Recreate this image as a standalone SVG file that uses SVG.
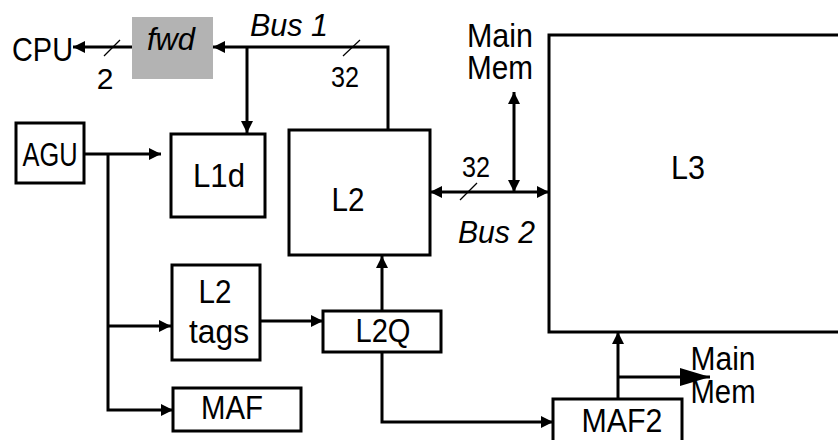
<svg xmlns="http://www.w3.org/2000/svg" width="838" height="440" viewBox="0 0 838 440">
<defs>
<style>
text{font-family:"Liberation Sans",Arial,sans-serif;fill:#000}
.lbl{font-size:33px;text-anchor:middle}
.it{font-style:italic;font-size:32px}
.num{font-size:30px;text-anchor:middle}
.box{fill:#fff;stroke:#000;stroke-width:3}
.ln{fill:none;stroke:#000;stroke-width:3}
.sl{stroke:#000;stroke-width:1.2}
</style>
<marker id="a" viewBox="0 0 12 12" refX="12" refY="6" markerWidth="12" markerHeight="12" markerUnits="userSpaceOnUse" orient="auto-start-reverse"><path d="M0,0 L12,6 L0,12 z" fill="#000"/></marker>
<marker id="big" viewBox="0 0 30 18" refX="30" refY="9" markerWidth="30" markerHeight="18" markerUnits="userSpaceOnUse" orient="auto"><path d="M0,0 L30,9 L0,18 z" fill="#000"/></marker>
</defs>
<rect width="838" height="440" fill="#fff"/>
<g id="connectors">
<line class="ln" x1="132" y1="47" x2="73" y2="47" marker-end="url(#a)"/>
<line class="sl" x1="104" y1="56" x2="120" y2="40"/>
<path class="ln" d="M388,130 L388,47 L213,47" marker-end="url(#a)"/>
<path class="ln" d="M247,47 L247,133" marker-end="url(#a)"/>
<line class="sl" x1="343" y1="56" x2="360" y2="40"/>
<path class="ln" d="M84,154 L161,154" marker-end="url(#a)"/>
<path class="ln" d="M108,154 L108,410 L173,410" marker-end="url(#a)"/>
<path class="ln" d="M108,326 L171,326" marker-end="url(#a)"/>
<path class="ln" d="M260,321 L323,321" marker-end="url(#a)"/>
<path class="ln" d="M382,311 L382,256" marker-end="url(#a)"/>
<path class="ln" d="M382,352 L382,422 L553,422" marker-end="url(#a)"/>
<path class="ln" d="M430,192 L549,192" marker-start="url(#a)" marker-end="url(#a)"/>
<path class="ln" d="M514,92 L514,192" marker-start="url(#a)" marker-end="url(#a)"/>
<line class="sl" x1="460" y1="200" x2="477" y2="183"/>
<path class="ln" d="M618,399 L618,332" marker-end="url(#a)"/>
<path class="ln" d="M618,377 L710,377" marker-end="url(#big)"/>
</g>
<g id="fwd"><rect x="132" y="17" width="81" height="62" fill="#b3b3b3"/><text class="it" x="171" y="50" text-anchor="middle" font-size="28" textLength="48" lengthAdjust="spacingAndGlyphs">fwd</text></g>
<g id="cpu"><text class="lbl" x="42.5" y="61" font-size="35" textLength="61" lengthAdjust="spacingAndGlyphs">CPU</text></g>
<g id="bus1"><text class="it" x="250" y="36" textLength="78" lengthAdjust="spacingAndGlyphs">Bus 1</text><text class="num" x="105" y="89">2</text><text class="num" x="345" y="87" textLength="28" lengthAdjust="spacingAndGlyphs">32</text></g>
<g id="agu"><rect class="box" x="16" y="123" width="68" height="60"/><text class="lbl" x="50" y="166" font-size="32" textLength="55" lengthAdjust="spacingAndGlyphs">AGU</text></g>
<g id="l1d"><rect class="box" x="171" y="134" width="94" height="83"/><text class="lbl" x="219" y="187" textLength="52" lengthAdjust="spacingAndGlyphs">L1d</text></g>
<g id="l2"><rect class="box" x="289" y="130" width="141" height="125"/><text class="lbl" x="348" y="211" textLength="33" lengthAdjust="spacingAndGlyphs">L2</text></g>
<g id="l2tags"><rect class="box" x="172" y="265" width="88" height="95"/><text class="lbl" x="215" y="303" textLength="33" lengthAdjust="spacingAndGlyphs">L2</text><text class="lbl" x="219" y="343" textLength="60" lengthAdjust="spacingAndGlyphs">tags</text></g>
<g id="l2q"><rect class="box" x="323" y="311" width="118" height="41"/><text class="lbl" x="383" y="342" textLength="55" lengthAdjust="spacingAndGlyphs">L2Q</text></g>
<g id="maf"><rect class="box" x="173" y="388" width="128" height="43"/><text class="lbl" x="232" y="419" textLength="62" lengthAdjust="spacingAndGlyphs">MAF</text></g>
<g id="maf2"><rect class="box" x="553" y="399" width="129" height="50"/><text class="lbl" x="622" y="432" textLength="81" lengthAdjust="spacingAndGlyphs">MAF2</text></g>
<g id="l3"><rect class="box" x="549" y="35" width="300" height="297"/><text class="lbl" x="688" y="179" font-size="36" textLength="34" lengthAdjust="spacingAndGlyphs">L3</text></g>
<g id="mainmem1"><text class="lbl" x="500" y="47" textLength="66" lengthAdjust="spacingAndGlyphs">Main</text><text class="lbl" x="500" y="79" textLength="66" lengthAdjust="spacingAndGlyphs">Mem</text></g>
<g id="bus2"><text class="num" x="476" y="177" textLength="28" lengthAdjust="spacingAndGlyphs">32</text><text class="it" x="458" y="243" textLength="77" lengthAdjust="spacingAndGlyphs">Bus 2</text></g>
<g id="mainmem2"><text class="lbl" x="723" y="370" text-anchor="start" textLength="65" lengthAdjust="spacingAndGlyphs">Main</text><text class="lbl" x="723" y="403" text-anchor="start" textLength="65" lengthAdjust="spacingAndGlyphs">Mem</text></g>
</svg>
